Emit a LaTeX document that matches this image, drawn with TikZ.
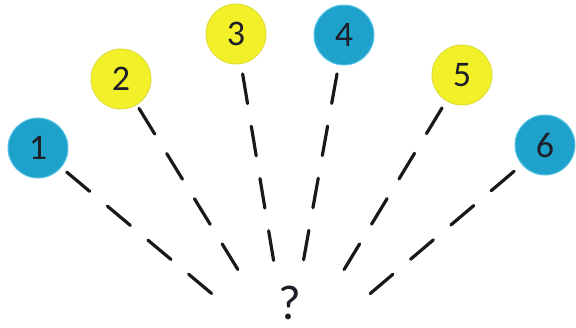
\documentclass[tikz,border=0pt]{standalone}
\usepackage{fontspec}
\setmainfont{Carlito}
\definecolor{ballblue}{RGB}{30,162,204}
\definecolor{ballblueedge}{RGB}{90,196,230}
\definecolor{ballyellow}{RGB}{242,240,40}
\definecolor{ballyellowedge}{RGB}{222,222,60}
\definecolor{digitink}{RGB}{30,30,40}
\begin{document}
\begin{tikzpicture}[x=1pt,y=-1pt,
  ball/.style={circle,minimum size=60pt,inner sep=0pt,line width=1pt,
    text=digitink,font=\fontsize{36}{36}\selectfont},
  blueball/.style={ball,fill=ballblue,draw=ballblueedge},
  yellowball/.style={ball,fill=ballyellow,draw=ballyellowedge},
  ray/.style={draw=black!90,line width=3.2pt,line cap=round,
    dash pattern=on 30pt off 23pt}]
\useasboundingbox (0,0) rectangle (576,327);

% the six numbered balls
\node[blueball]   (n1) at (38,148) {1};
\node[yellowball] (n2) at (121,79) {2};
\node[yellowball] (n3) at (236,34) {3};
\node[blueball]   (n4) at (344,35) {4};
\node[yellowball] (n5) at (462,75) {5};
\node[blueball]   (n6) at (545,145) {6};

% the unknown in the middle, sitting on its baseline
\node[text=digitink,font=\fontsize{49}{49}\selectfont,inner sep=0pt,
  text depth=0pt,anchor=base] (q) at (289.5,319) {?};

% inner ends of the dashed rays
\coordinate (e1) at (217,298);
\coordinate (e2) at (240,273);
\coordinate (e3) at (274,263);
\coordinate (e4) at (303,263);
\coordinate (e5) at (342,273);
\coordinate (e6) at (365,298);

\draw[ray,shorten <=7pt] (n1) -- (e1);
\draw[ray,shorten <=4pt] (n2) -- (e2);
\draw[ray,shorten <=10pt] (n3) -- (e3);
\draw[ray,shorten <=9pt] (n4) -- (e4);
\draw[ray,shorten <=8pt] (n5) -- (e5);
\draw[ray,shorten <=10pt] (n6) -- (e6);
\end{tikzpicture}
\end{document}
